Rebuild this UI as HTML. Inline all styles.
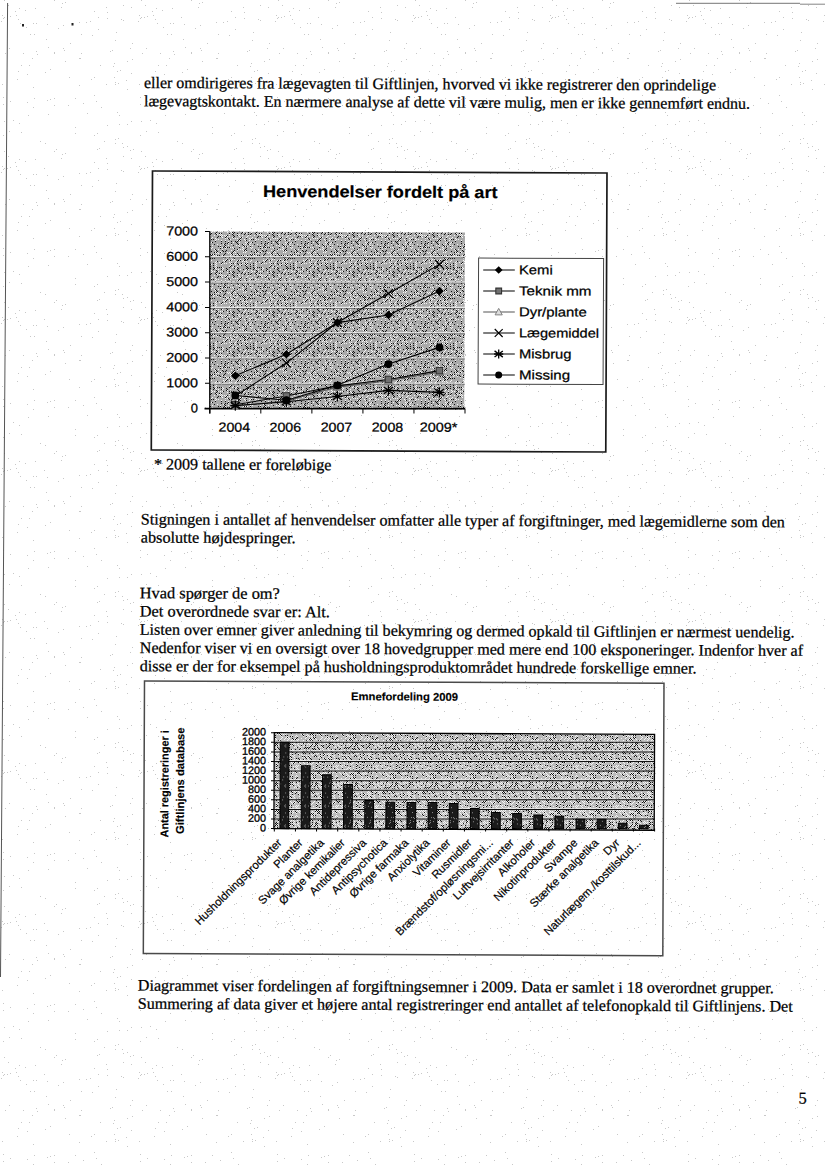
<!DOCTYPE html>
<html><head><meta charset="utf-8"><style>
html,body{margin:0;padding:0;background:#fff;width:825px;height:1168px;overflow:hidden}
svg{display:block}
</style></head><body>
<svg width="825" height="1168" viewBox="0 0 825 1168" shape-rendering="auto">
<defs><pattern id="dith1" width="40" height="40" patternUnits="userSpaceOnUse"><rect width="40" height="40" fill="#aaaaaa"/><path d="M0 0h1v1h-1zM6 0h1v1h-1zM38 0h1v1h-1zM15 1h1v1h-1zM21 1h1v1h-1zM25 1h1v1h-1zM31 1h1v1h-1zM35 1h1v1h-1zM37 1h1v1h-1zM8 2h1v1h-1zM12 2h1v1h-1zM28 2h1v1h-1zM36 2h1v1h-1zM7 3h1v1h-1zM21 3h1v1h-1zM25 3h1v1h-1zM27 3h1v1h-1zM31 3h1v1h-1zM37 3h1v1h-1zM2 4h1v1h-1zM8 4h1v1h-1zM14 4h1v1h-1zM24 4h1v1h-1zM38 4h1v1h-1zM3 5h1v1h-1zM25 5h1v1h-1zM33 5h1v1h-1zM4 6h1v1h-1zM6 6h1v1h-1zM10 6h1v1h-1zM18 6h1v1h-1zM20 6h1v1h-1zM24 6h1v1h-1zM23 7h1v1h-1zM25 7h1v1h-1zM27 7h1v1h-1zM29 7h1v1h-1zM39 7h1v1h-1zM6 8h1v1h-1zM20 8h1v1h-1zM34 8h1v1h-1zM5 9h1v1h-1zM15 9h1v1h-1zM37 9h1v1h-1zM4 10h1v1h-1zM6 10h1v1h-1zM16 10h1v1h-1zM22 10h1v1h-1zM26 10h1v1h-1zM34 10h1v1h-1zM11 11h1v1h-1zM17 11h1v1h-1zM23 11h1v1h-1zM25 11h1v1h-1zM33 11h1v1h-1zM14 12h1v1h-1zM16 12h1v1h-1zM20 12h1v1h-1zM32 12h1v1h-1zM25 13h1v1h-1zM31 13h1v1h-1zM37 13h1v1h-1zM10 14h1v1h-1zM12 14h1v1h-1zM14 14h1v1h-1zM24 14h1v1h-1zM32 14h1v1h-1zM38 14h1v1h-1zM1 15h1v1h-1zM3 15h1v1h-1zM7 15h1v1h-1zM11 15h1v1h-1zM17 15h1v1h-1zM19 15h1v1h-1zM23 15h1v1h-1zM35 15h1v1h-1zM39 15h1v1h-1zM0 16h1v1h-1zM2 16h1v1h-1zM4 16h1v1h-1zM20 16h1v1h-1zM3 17h1v1h-1zM5 17h1v1h-1zM9 17h1v1h-1zM23 17h1v1h-1zM25 17h1v1h-1zM29 17h1v1h-1zM33 17h1v1h-1zM4 18h1v1h-1zM8 18h1v1h-1zM10 18h1v1h-1zM12 18h1v1h-1zM14 18h1v1h-1zM34 18h1v1h-1zM5 19h1v1h-1zM7 19h1v1h-1zM27 19h1v1h-1zM0 20h1v1h-1zM4 20h1v1h-1zM26 20h1v1h-1zM30 20h1v1h-1zM38 20h1v1h-1zM17 21h1v1h-1zM25 21h1v1h-1zM37 21h1v1h-1zM22 22h1v1h-1zM1 23h1v1h-1zM5 23h1v1h-1zM7 23h1v1h-1zM13 23h1v1h-1zM21 23h1v1h-1zM31 23h1v1h-1zM33 23h1v1h-1zM37 23h1v1h-1zM6 24h1v1h-1zM10 24h1v1h-1zM38 24h1v1h-1zM1 25h1v1h-1zM5 25h1v1h-1zM13 25h1v1h-1zM31 25h1v1h-1zM6 26h1v1h-1zM10 26h1v1h-1zM30 26h1v1h-1zM34 26h1v1h-1zM7 27h1v1h-1zM13 27h1v1h-1zM17 27h1v1h-1zM19 27h1v1h-1zM21 27h1v1h-1zM29 27h1v1h-1zM37 27h1v1h-1zM6 28h1v1h-1zM8 28h1v1h-1zM10 28h1v1h-1zM14 28h1v1h-1zM26 28h1v1h-1zM34 28h1v1h-1zM38 28h1v1h-1zM3 29h1v1h-1zM7 29h1v1h-1zM13 29h1v1h-1zM21 29h1v1h-1zM27 29h1v1h-1zM37 29h1v1h-1zM16 30h1v1h-1zM26 30h1v1h-1zM38 30h1v1h-1zM17 31h1v1h-1zM23 31h1v1h-1zM29 31h1v1h-1zM33 31h1v1h-1zM39 31h1v1h-1zM2 32h1v1h-1zM8 32h1v1h-1zM16 32h1v1h-1zM32 32h1v1h-1zM34 32h1v1h-1zM1 33h1v1h-1zM5 33h1v1h-1zM11 33h1v1h-1zM15 33h1v1h-1zM19 33h1v1h-1zM21 33h1v1h-1zM29 33h1v1h-1zM33 33h1v1h-1zM37 33h1v1h-1zM4 34h1v1h-1zM8 34h1v1h-1zM10 34h1v1h-1zM16 34h1v1h-1zM32 34h1v1h-1zM27 35h1v1h-1zM33 35h1v1h-1zM37 35h1v1h-1zM18 36h1v1h-1zM20 36h1v1h-1zM26 36h1v1h-1zM34 36h1v1h-1zM1 37h1v1h-1zM17 37h1v1h-1zM25 37h1v1h-1zM33 37h1v1h-1zM0 38h1v1h-1zM6 38h1v1h-1zM28 38h1v1h-1zM11 39h1v1h-1zM13 39h1v1h-1zM29 39h1v1h-1zM39 39h1v1h-1z" fill="#111"/><path d="M5 0h1v1h-1zM9 0h1v1h-1zM15 0h1v1h-1zM21 0h1v1h-1zM25 0h1v1h-1zM37 0h1v1h-1zM39 0h1v1h-1zM28 1h1v1h-1zM5 2h1v1h-1zM7 2h1v1h-1zM11 2h1v1h-1zM33 2h1v1h-1zM39 2h1v1h-1zM6 3h1v1h-1zM10 3h1v1h-1zM28 3h1v1h-1zM3 4h1v1h-1zM5 4h1v1h-1zM9 4h1v1h-1zM17 4h1v1h-1zM23 4h1v1h-1zM31 4h1v1h-1zM39 4h1v1h-1zM10 5h1v1h-1zM12 5h1v1h-1zM20 5h1v1h-1zM28 5h1v1h-1zM36 5h1v1h-1zM38 5h1v1h-1zM3 6h1v1h-1zM5 6h1v1h-1zM7 6h1v1h-1zM25 6h1v1h-1zM39 6h1v1h-1zM2 7h1v1h-1zM10 7h1v1h-1zM12 7h1v1h-1zM20 7h1v1h-1zM22 7h1v1h-1zM26 7h1v1h-1zM30 7h1v1h-1zM32 7h1v1h-1zM3 8h1v1h-1zM11 8h1v1h-1zM25 8h1v1h-1zM33 8h1v1h-1zM0 9h1v1h-1zM2 9h1v1h-1zM14 9h1v1h-1zM18 9h1v1h-1zM22 9h1v1h-1zM38 9h1v1h-1zM3 10h1v1h-1zM5 10h1v1h-1zM15 10h1v1h-1zM31 10h1v1h-1zM37 10h1v1h-1zM6 11h1v1h-1zM20 11h1v1h-1zM34 11h1v1h-1zM3 12h1v1h-1zM5 12h1v1h-1zM15 12h1v1h-1zM17 12h1v1h-1zM21 12h1v1h-1zM27 12h1v1h-1zM29 12h1v1h-1zM33 12h1v1h-1zM35 12h1v1h-1zM10 13h1v1h-1zM16 13h1v1h-1zM18 13h1v1h-1zM28 13h1v1h-1zM30 13h1v1h-1zM11 14h1v1h-1zM13 14h1v1h-1zM31 14h1v1h-1zM33 14h1v1h-1zM35 14h1v1h-1zM37 14h1v1h-1zM39 14h1v1h-1zM2 15h1v1h-1zM4 15h1v1h-1zM6 15h1v1h-1zM14 15h1v1h-1zM16 15h1v1h-1zM22 15h1v1h-1zM30 15h1v1h-1zM1 16h1v1h-1zM3 16h1v1h-1zM7 16h1v1h-1zM13 16h1v1h-1zM17 16h1v1h-1zM25 16h1v1h-1zM33 16h1v1h-1zM37 16h1v1h-1zM10 17h1v1h-1zM20 17h1v1h-1zM26 17h1v1h-1zM28 17h1v1h-1zM30 17h1v1h-1zM34 17h1v1h-1zM36 17h1v1h-1zM3 18h1v1h-1zM5 18h1v1h-1zM7 18h1v1h-1zM23 18h1v1h-1zM27 18h1v1h-1zM31 18h1v1h-1zM0 19h1v1h-1zM6 19h1v1h-1zM26 19h1v1h-1zM32 19h1v1h-1zM34 19h1v1h-1zM3 20h1v1h-1zM11 20h1v1h-1zM23 20h1v1h-1zM25 20h1v1h-1zM29 20h1v1h-1zM31 20h1v1h-1zM37 20h1v1h-1zM39 20h1v1h-1zM2 21h1v1h-1zM4 21h1v1h-1zM6 21h1v1h-1zM10 21h1v1h-1zM16 21h1v1h-1zM24 21h1v1h-1zM36 21h1v1h-1zM7 22h1v1h-1zM15 22h1v1h-1zM19 22h1v1h-1zM29 22h1v1h-1zM31 22h1v1h-1zM35 22h1v1h-1zM2 23h1v1h-1zM4 23h1v1h-1zM6 23h1v1h-1zM16 23h1v1h-1zM22 23h1v1h-1zM24 23h1v1h-1zM26 23h1v1h-1zM30 23h1v1h-1zM34 23h1v1h-1zM1 24h1v1h-1zM5 24h1v1h-1zM7 24h1v1h-1zM11 24h1v1h-1zM15 24h1v1h-1zM21 24h1v1h-1zM31 24h1v1h-1zM35 24h1v1h-1zM39 24h1v1h-1zM0 25h1v1h-1zM6 25h1v1h-1zM16 25h1v1h-1zM30 25h1v1h-1zM15 26h1v1h-1zM29 26h1v1h-1zM33 26h1v1h-1zM37 26h1v1h-1zM16 27h1v1h-1zM22 27h1v1h-1zM32 27h1v1h-1zM36 27h1v1h-1zM15 28h1v1h-1zM23 28h1v1h-1zM35 28h1v1h-1zM0 29h1v1h-1zM6 29h1v1h-1zM8 29h1v1h-1zM16 29h1v1h-1zM18 29h1v1h-1zM22 29h1v1h-1zM30 29h1v1h-1zM5 30h1v1h-1zM11 30h1v1h-1zM27 30h1v1h-1zM4 31h1v1h-1zM8 31h1v1h-1zM12 31h1v1h-1zM14 31h1v1h-1zM18 31h1v1h-1zM20 31h1v1h-1zM22 31h1v1h-1zM30 31h1v1h-1zM3 32h1v1h-1zM11 32h1v1h-1zM27 32h1v1h-1zM31 32h1v1h-1zM6 33h1v1h-1zM16 33h1v1h-1zM20 33h1v1h-1zM32 33h1v1h-1zM17 34h1v1h-1zM19 34h1v1h-1zM21 34h1v1h-1zM29 34h1v1h-1zM37 34h1v1h-1zM39 34h1v1h-1zM2 35h1v1h-1zM8 35h1v1h-1zM10 35h1v1h-1zM14 35h1v1h-1zM20 35h1v1h-1zM22 35h1v1h-1zM24 35h1v1h-1zM26 35h1v1h-1zM38 35h1v1h-1zM7 36h1v1h-1zM21 36h1v1h-1zM25 36h1v1h-1zM27 36h1v1h-1zM29 36h1v1h-1zM39 36h1v1h-1zM0 37h1v1h-1zM2 37h1v1h-1zM6 37h1v1h-1zM12 37h1v1h-1zM22 37h1v1h-1zM32 37h1v1h-1zM9 38h1v1h-1zM11 38h1v1h-1zM15 38h1v1h-1zM25 38h1v1h-1zM27 38h1v1h-1zM33 38h1v1h-1zM35 38h1v1h-1zM37 38h1v1h-1zM0 39h1v1h-1zM4 39h1v1h-1zM10 39h1v1h-1zM16 39h1v1h-1zM18 39h1v1h-1zM30 39h1v1h-1z" fill="#f5f5f5"/></pattern><pattern id="dith2" width="40" height="40" patternUnits="userSpaceOnUse"><rect width="40" height="40" fill="#bababa"/><path d="M6 0h1v1h-1zM16 0h1v1h-1zM26 0h1v1h-1zM28 0h1v1h-1zM36 0h1v1h-1zM3 1h1v1h-1zM5 1h1v1h-1zM17 1h1v1h-1zM19 1h1v1h-1zM27 1h1v1h-1zM2 2h1v1h-1zM4 2h1v1h-1zM14 2h1v1h-1zM18 2h1v1h-1zM28 2h1v1h-1zM30 2h1v1h-1zM38 2h1v1h-1zM13 3h1v1h-1zM0 4h1v1h-1zM20 4h1v1h-1zM36 4h1v1h-1zM3 5h1v1h-1zM7 5h1v1h-1zM9 5h1v1h-1zM11 5h1v1h-1zM25 5h1v1h-1zM27 5h1v1h-1zM37 5h1v1h-1zM6 6h1v1h-1zM30 6h1v1h-1zM36 6h1v1h-1zM3 7h1v1h-1zM11 7h1v1h-1zM39 7h1v1h-1zM2 8h1v1h-1zM14 8h1v1h-1zM22 8h1v1h-1zM36 8h1v1h-1zM1 9h1v1h-1zM5 9h1v1h-1zM9 9h1v1h-1zM29 9h1v1h-1zM33 9h1v1h-1zM39 9h1v1h-1zM6 10h1v1h-1zM8 10h1v1h-1zM36 10h1v1h-1zM38 10h1v1h-1zM3 11h1v1h-1zM9 11h1v1h-1zM11 11h1v1h-1zM15 11h1v1h-1zM35 11h1v1h-1zM37 11h1v1h-1zM39 11h1v1h-1zM8 12h1v1h-1zM16 12h1v1h-1zM24 12h1v1h-1zM38 12h1v1h-1zM11 13h1v1h-1zM31 13h1v1h-1zM33 13h1v1h-1zM37 13h1v1h-1zM39 13h1v1h-1zM0 14h1v1h-1zM22 14h1v1h-1zM30 14h1v1h-1zM32 14h1v1h-1zM1 15h1v1h-1zM5 15h1v1h-1zM7 15h1v1h-1zM23 15h1v1h-1zM33 15h1v1h-1zM35 15h1v1h-1zM10 16h1v1h-1zM12 16h1v1h-1zM26 16h1v1h-1zM7 17h1v1h-1zM17 17h1v1h-1zM33 17h1v1h-1zM35 17h1v1h-1zM12 18h1v1h-1zM16 18h1v1h-1zM30 18h1v1h-1zM34 18h1v1h-1zM13 19h1v1h-1zM15 19h1v1h-1zM29 19h1v1h-1zM31 19h1v1h-1zM0 20h1v1h-1zM26 20h1v1h-1zM30 20h1v1h-1zM32 20h1v1h-1zM38 20h1v1h-1zM1 21h1v1h-1zM9 21h1v1h-1zM19 21h1v1h-1zM27 21h1v1h-1zM10 22h1v1h-1zM12 22h1v1h-1zM16 22h1v1h-1zM26 22h1v1h-1zM32 22h1v1h-1zM36 22h1v1h-1zM9 23h1v1h-1zM23 23h1v1h-1zM35 23h1v1h-1zM37 23h1v1h-1zM6 24h1v1h-1zM10 24h1v1h-1zM12 24h1v1h-1zM32 24h1v1h-1zM36 24h1v1h-1zM1 25h1v1h-1zM3 25h1v1h-1zM9 25h1v1h-1zM13 25h1v1h-1zM21 25h1v1h-1zM25 25h1v1h-1zM31 25h1v1h-1zM35 25h1v1h-1zM37 25h1v1h-1zM2 26h1v1h-1zM8 26h1v1h-1zM30 26h1v1h-1zM34 26h1v1h-1zM3 27h1v1h-1zM7 27h1v1h-1zM9 27h1v1h-1zM17 27h1v1h-1zM25 27h1v1h-1zM27 27h1v1h-1zM29 27h1v1h-1zM37 27h1v1h-1zM6 28h1v1h-1zM20 28h1v1h-1zM24 28h1v1h-1zM26 28h1v1h-1zM28 28h1v1h-1zM32 28h1v1h-1zM34 28h1v1h-1zM38 28h1v1h-1zM11 29h1v1h-1zM15 29h1v1h-1zM19 29h1v1h-1zM33 29h1v1h-1zM35 29h1v1h-1zM39 29h1v1h-1zM2 30h1v1h-1zM26 30h1v1h-1zM30 30h1v1h-1zM11 31h1v1h-1zM23 31h1v1h-1zM27 31h1v1h-1zM31 31h1v1h-1zM12 32h1v1h-1zM16 32h1v1h-1zM22 32h1v1h-1zM24 32h1v1h-1zM32 32h1v1h-1zM34 32h1v1h-1zM3 33h1v1h-1zM15 33h1v1h-1zM23 33h1v1h-1zM25 33h1v1h-1zM29 33h1v1h-1zM33 33h1v1h-1zM0 34h1v1h-1zM4 34h1v1h-1zM12 34h1v1h-1zM18 34h1v1h-1zM3 35h1v1h-1zM7 35h1v1h-1zM35 35h1v1h-1zM0 36h1v1h-1zM10 36h1v1h-1zM22 36h1v1h-1zM24 36h1v1h-1zM28 36h1v1h-1zM34 36h1v1h-1zM36 36h1v1h-1zM1 37h1v1h-1zM11 37h1v1h-1zM25 37h1v1h-1zM29 37h1v1h-1zM4 38h1v1h-1zM8 38h1v1h-1zM16 38h1v1h-1zM18 38h1v1h-1zM26 38h1v1h-1zM30 38h1v1h-1zM5 39h1v1h-1zM9 39h1v1h-1zM11 39h1v1h-1zM19 39h1v1h-1zM23 39h1v1h-1zM31 39h1v1h-1zM39 39h1v1h-1z" fill="#111"/><path d="M11 0h1v1h-1zM13 0h1v1h-1zM17 0h1v1h-1zM21 0h1v1h-1zM23 0h1v1h-1zM25 0h1v1h-1zM29 0h1v1h-1zM2 1h1v1h-1zM4 1h1v1h-1zM6 1h1v1h-1zM8 1h1v1h-1zM10 1h1v1h-1zM14 1h1v1h-1zM22 1h1v1h-1zM24 1h1v1h-1zM26 1h1v1h-1zM28 1h1v1h-1zM30 1h1v1h-1zM34 1h1v1h-1zM38 1h1v1h-1zM5 2h1v1h-1zM11 2h1v1h-1zM13 2h1v1h-1zM15 2h1v1h-1zM19 2h1v1h-1zM23 2h1v1h-1zM27 2h1v1h-1zM33 2h1v1h-1zM39 2h1v1h-1zM0 3h1v1h-1zM2 3h1v1h-1zM12 3h1v1h-1zM14 3h1v1h-1zM20 3h1v1h-1zM24 3h1v1h-1zM30 3h1v1h-1zM32 3h1v1h-1zM36 3h1v1h-1zM27 4h1v1h-1zM31 4h1v1h-1zM37 4h1v1h-1zM0 5h1v1h-1zM6 5h1v1h-1zM8 5h1v1h-1zM10 5h1v1h-1zM16 5h1v1h-1zM18 5h1v1h-1zM20 5h1v1h-1zM22 5h1v1h-1zM24 5h1v1h-1zM36 5h1v1h-1zM3 6h1v1h-1zM5 6h1v1h-1zM9 6h1v1h-1zM13 6h1v1h-1zM15 6h1v1h-1zM17 6h1v1h-1zM21 6h1v1h-1zM25 6h1v1h-1zM33 6h1v1h-1zM2 7h1v1h-1zM16 7h1v1h-1zM22 7h1v1h-1zM28 7h1v1h-1zM30 7h1v1h-1zM36 7h1v1h-1zM5 8h1v1h-1zM9 8h1v1h-1zM13 8h1v1h-1zM17 8h1v1h-1zM27 8h1v1h-1zM29 8h1v1h-1zM33 8h1v1h-1zM39 8h1v1h-1zM2 9h1v1h-1zM4 9h1v1h-1zM10 9h1v1h-1zM16 9h1v1h-1zM18 9h1v1h-1zM24 9h1v1h-1zM26 9h1v1h-1zM30 9h1v1h-1zM36 9h1v1h-1zM38 9h1v1h-1zM1 10h1v1h-1zM9 10h1v1h-1zM13 10h1v1h-1zM17 10h1v1h-1zM19 10h1v1h-1zM21 10h1v1h-1zM23 10h1v1h-1zM25 10h1v1h-1zM29 10h1v1h-1zM35 10h1v1h-1zM37 10h1v1h-1zM39 10h1v1h-1zM10 11h1v1h-1zM12 11h1v1h-1zM16 11h1v1h-1zM18 11h1v1h-1zM20 11h1v1h-1zM22 11h1v1h-1zM24 11h1v1h-1zM30 11h1v1h-1zM32 11h1v1h-1zM36 11h1v1h-1zM38 11h1v1h-1zM3 12h1v1h-1zM5 12h1v1h-1zM9 12h1v1h-1zM13 12h1v1h-1zM15 12h1v1h-1zM19 12h1v1h-1zM23 12h1v1h-1zM25 12h1v1h-1zM29 12h1v1h-1zM31 12h1v1h-1zM33 12h1v1h-1zM35 12h1v1h-1zM37 12h1v1h-1zM0 13h1v1h-1zM2 13h1v1h-1zM4 13h1v1h-1zM6 13h1v1h-1zM12 13h1v1h-1zM16 13h1v1h-1zM20 13h1v1h-1zM24 13h1v1h-1zM26 13h1v1h-1zM30 13h1v1h-1zM32 13h1v1h-1zM34 13h1v1h-1zM36 13h1v1h-1zM1 14h1v1h-1zM3 14h1v1h-1zM5 14h1v1h-1zM21 14h1v1h-1zM23 14h1v1h-1zM27 14h1v1h-1zM31 14h1v1h-1zM33 14h1v1h-1zM37 14h1v1h-1zM39 14h1v1h-1zM0 15h1v1h-1zM12 15h1v1h-1zM16 15h1v1h-1zM26 15h1v1h-1zM28 15h1v1h-1zM32 15h1v1h-1zM34 15h1v1h-1zM1 16h1v1h-1zM7 16h1v1h-1zM11 16h1v1h-1zM15 16h1v1h-1zM17 16h1v1h-1zM23 16h1v1h-1zM27 16h1v1h-1zM29 16h1v1h-1zM31 16h1v1h-1zM2 17h1v1h-1zM6 17h1v1h-1zM8 17h1v1h-1zM26 17h1v1h-1zM32 17h1v1h-1zM34 17h1v1h-1zM1 18h1v1h-1zM5 18h1v1h-1zM7 18h1v1h-1zM9 18h1v1h-1zM15 18h1v1h-1zM21 18h1v1h-1zM25 18h1v1h-1zM29 18h1v1h-1zM31 18h1v1h-1zM35 18h1v1h-1zM0 19h1v1h-1zM4 19h1v1h-1zM8 19h1v1h-1zM12 19h1v1h-1zM14 19h1v1h-1zM16 19h1v1h-1zM18 19h1v1h-1zM28 19h1v1h-1zM30 19h1v1h-1zM32 19h1v1h-1zM36 19h1v1h-1zM7 20h1v1h-1zM11 20h1v1h-1zM13 20h1v1h-1zM17 20h1v1h-1zM23 20h1v1h-1zM27 20h1v1h-1zM31 20h1v1h-1zM39 20h1v1h-1zM4 21h1v1h-1zM10 21h1v1h-1zM14 21h1v1h-1zM20 21h1v1h-1zM22 21h1v1h-1zM28 21h1v1h-1zM30 21h1v1h-1zM34 21h1v1h-1zM38 21h1v1h-1zM3 22h1v1h-1zM5 22h1v1h-1zM7 22h1v1h-1zM9 22h1v1h-1zM13 22h1v1h-1zM17 22h1v1h-1zM21 22h1v1h-1zM25 22h1v1h-1zM27 22h1v1h-1zM37 22h1v1h-1zM39 22h1v1h-1zM0 23h1v1h-1zM4 23h1v1h-1zM6 23h1v1h-1zM12 23h1v1h-1zM14 23h1v1h-1zM18 23h1v1h-1zM20 23h1v1h-1zM22 23h1v1h-1zM24 23h1v1h-1zM28 23h1v1h-1zM34 23h1v1h-1zM1 24h1v1h-1zM3 24h1v1h-1zM7 24h1v1h-1zM13 24h1v1h-1zM15 24h1v1h-1zM17 24h1v1h-1zM21 24h1v1h-1zM27 24h1v1h-1zM29 24h1v1h-1zM31 24h1v1h-1zM33 24h1v1h-1zM37 24h1v1h-1zM10 25h1v1h-1zM12 25h1v1h-1zM18 25h1v1h-1zM24 25h1v1h-1zM30 25h1v1h-1zM32 25h1v1h-1zM34 25h1v1h-1zM36 25h1v1h-1zM38 25h1v1h-1zM1 26h1v1h-1zM9 26h1v1h-1zM15 26h1v1h-1zM19 26h1v1h-1zM21 26h1v1h-1zM23 26h1v1h-1zM27 26h1v1h-1zM29 26h1v1h-1zM39 26h1v1h-1zM0 27h1v1h-1zM2 27h1v1h-1zM8 27h1v1h-1zM14 27h1v1h-1zM16 27h1v1h-1zM20 27h1v1h-1zM32 27h1v1h-1zM36 27h1v1h-1zM3 28h1v1h-1zM7 28h1v1h-1zM21 28h1v1h-1zM27 28h1v1h-1zM37 28h1v1h-1zM0 29h1v1h-1zM2 29h1v1h-1zM8 29h1v1h-1zM12 29h1v1h-1zM24 29h1v1h-1zM3 30h1v1h-1zM9 30h1v1h-1zM11 30h1v1h-1zM13 30h1v1h-1zM19 30h1v1h-1zM21 30h1v1h-1zM27 30h1v1h-1zM29 30h1v1h-1zM31 30h1v1h-1zM33 30h1v1h-1zM35 30h1v1h-1zM39 30h1v1h-1zM8 31h1v1h-1zM12 31h1v1h-1zM14 31h1v1h-1zM16 31h1v1h-1zM18 31h1v1h-1zM20 31h1v1h-1zM22 31h1v1h-1zM28 31h1v1h-1zM30 31h1v1h-1zM1 32h1v1h-1zM7 32h1v1h-1zM9 32h1v1h-1zM15 32h1v1h-1zM19 32h1v1h-1zM21 32h1v1h-1zM23 32h1v1h-1zM25 32h1v1h-1zM29 32h1v1h-1zM31 32h1v1h-1zM33 32h1v1h-1zM4 33h1v1h-1zM8 33h1v1h-1zM10 33h1v1h-1zM12 33h1v1h-1zM18 33h1v1h-1zM34 33h1v1h-1zM36 33h1v1h-1zM38 33h1v1h-1zM1 34h1v1h-1zM3 34h1v1h-1zM5 34h1v1h-1zM7 34h1v1h-1zM9 34h1v1h-1zM19 34h1v1h-1zM21 34h1v1h-1zM31 34h1v1h-1zM33 34h1v1h-1zM37 34h1v1h-1zM0 35h1v1h-1zM4 35h1v1h-1zM8 35h1v1h-1zM10 35h1v1h-1zM12 35h1v1h-1zM14 35h1v1h-1zM22 35h1v1h-1zM24 35h1v1h-1zM26 35h1v1h-1zM28 35h1v1h-1zM32 35h1v1h-1zM1 36h1v1h-1zM3 36h1v1h-1zM9 36h1v1h-1zM13 36h1v1h-1zM19 36h1v1h-1zM29 36h1v1h-1zM35 36h1v1h-1zM39 36h1v1h-1zM0 37h1v1h-1zM8 37h1v1h-1zM10 37h1v1h-1zM14 37h1v1h-1zM22 37h1v1h-1zM24 37h1v1h-1zM26 37h1v1h-1zM28 37h1v1h-1zM30 37h1v1h-1zM38 37h1v1h-1zM3 38h1v1h-1zM5 38h1v1h-1zM7 38h1v1h-1zM9 38h1v1h-1zM11 38h1v1h-1zM27 38h1v1h-1zM0 39h1v1h-1zM8 39h1v1h-1zM14 39h1v1h-1zM16 39h1v1h-1zM20 39h1v1h-1zM24 39h1v1h-1zM28 39h1v1h-1z" fill="#f5f5f5"/></pattern><pattern id="dith3" width="20" height="20" patternUnits="userSpaceOnUse"><rect width="20" height="20" fill="#1a1a1a"/><path d="" fill="#111"/><path d="M3 0h1v1h-1zM11 0h1v1h-1zM14 1h1v1h-1zM11 2h1v1h-1zM10 3h1v1h-1zM18 3h1v1h-1zM1 4h1v1h-1zM6 5h1v1h-1zM5 6h1v1h-1zM9 6h1v1h-1zM6 7h1v1h-1zM12 7h1v1h-1zM19 8h1v1h-1zM0 9h1v1h-1zM13 12h1v1h-1zM6 13h1v1h-1zM4 17h1v1h-1zM8 17h1v1h-1zM12 17h1v1h-1zM14 17h1v1h-1zM15 18h1v1h-1zM17 18h1v1h-1zM18 19h1v1h-1z" fill="#8a8a8a"/></pattern><pattern id="speck" width="137" height="151" patternUnits="userSpaceOnUse"><path d="M115 143h1v1h-1zM119 115h1v1h-1zM130 150h1v1h-1zM48 47h1v1h-1zM131 121h1v1h-1zM47 24h1v1h-1zM114 77h1v1h-1zM36 23h1v1h-1zM10 101h1v1h-1zM115 40h1v1h-1zM3 135h1v1h-1zM16 15h1v1h-1zM9 48h1v1h-1zM61 7h1v1h-1zM118 83h1v1h-1zM112 50h1v1h-1zM132 59h1v1h-1zM75 127h1v1h-1zM1 21h1v1h-1zM117 71h1v1h-1zM104 141h1v1h-1zM21 65h1v1h-1zM80 58h1v1h-1zM131 73h1v1h-1zM7 17h1v1h-1zM27 102h1v1h-1zM27 74h1v1h-1zM98 17h1v1h-1zM4 0h1v1h-1zM54 53h1v1h-1zM13 120h1v1h-1zM96 101h1v1h-1zM107 18h1v1h-1zM50 69h1v1h-1zM86 22h1v1h-1zM79 85h1v1h-1zM3 104h1v1h-1zM30 34h1v1h-1zM63 25h1v1h-1zM2 15h1v1h-1zM119 124h1v1h-1zM45 143h1v1h-1zM48 114h1v1h-1zM130 48h1v1h-1zM33 107h1v1h-1zM98 29h1v1h-1zM101 107h1v1h-1zM54 0h1v1h-1zM69 77h1v1h-1zM5 53h1v1h-1zM47 100h1v1h-1zM25 10h1v1h-1zM37 54h1v1h-1zM113 66h1v1h-1zM2 84h1v1h-1zM75 98h1v1h-1zM18 19h1v1h-1zM23 53h1v1h-1zM62 3h1v1h-1zM94 95h1v1h-1zM116 32h1v1h-1zM123 147h1v1h-1zM34 98h1v1h-1zM46 39h1v1h-1zM79 58h1v1h-1zM63 48h1v1h-1zM40 141h1v1h-1zM50 99h1v1h-1zM123 20h1v1h-1zM107 12h1v1h-1zM26 27h1v1h-1zM9 131h1v1h-1zM65 61h1v1h-1zM100 65h1v1h-1zM107 125h1v1h-1zM75 133h1v1h-1zM44 17h1v1h-1zM32 58h1v1h-1zM122 143h1v1h-1zM18 71h1v1h-1zM54 52h1v1h-1zM4 17h1v1h-1zM68 105h1v1h-1zM114 63h1v1h-1zM15 11h1v1h-1zM45 72h1v1h-1zM94 135h1v1h-1zM33 23h1v1h-1zM92 35h1v1h-1zM115 84h1v1h-1zM133 149h1v1h-1zM35 8h1v1h-1zM4 121h1v1h-1zM91 79h1v1h-1zM8 5h1v1h-1zM19 123h1v1h-1zM17 79h1v1h-1zM81 34h1v1h-1zM18 19h1v1h-1zM115 139h1v1h-1zM94 11h1v1h-1zM33 87h1v1h-1zM90 21h1v1h-1zM121 19h1v1h-1zM106 7h1v1h-1zM127 146h1v1h-1zM3 97h1v1h-1zM97 149h1v1h-1zM3 18h1v1h-1zM20 23h1v1h-1zM29 65h1v1h-1zM106 84h1v1h-1zM99 148h1v1h-1zM117 112h1v1h-1zM118 138h1v1h-1zM21 132h1v1h-1zM131 7h1v1h-1zM79 22h1v1h-1zM123 5h1v1h-1zM58 28h1v1h-1zM127 124h1v1h-1zM65 2h1v1h-1zM94 77h1v1h-1zM36 51h1v1h-1zM132 43h1v1h-1zM87 113h1v1h-1zM127 61h1v1h-1zM83 103h1v1h-1zM64 50h1v1h-1zM110 51h1v1h-1zM54 98h1v1h-1zM56 149h1v1h-1zM81 53h1v1h-1zM34 34h1v1h-1zM127 89h1v1h-1zM10 16h1v1h-1zM70 43h1v1h-1zM28 115h1v1h-1zM120 70h1v1h-1zM54 105h1v1h-1zM97 133h1v1h-1zM126 80h1v1h-1zM115 82h1v1h-1zM19 8h1v1h-1z" fill="#c8c8c8"/></pattern></defs>
<rect x="0" y="0" width="825" height="1168" fill="url(#speck)"/>
<g transform="rotate(0.25 412.0 584.0)">
<text x="141.84" y="89.07" font-family='"Liberation Serif", serif' font-size="16" font-weight="normal" text-anchor="start" fill="#000" stroke="#000" stroke-width="0.25" textLength="572.14" lengthAdjust="spacingAndGlyphs">eller omdirigeres fra lægevagten til Giftlinjen, hvorved vi ikke registrerer den oprindelige</text>
<text x="141.92" y="107.37" font-family='"Liberation Serif", serif' font-size="16" font-weight="normal" text-anchor="start" fill="#000" stroke="#000" stroke-width="0.25" textLength="605.94" lengthAdjust="spacingAndGlyphs">lægevagtskontakt. En nærmere analyse af dette vil være mulig, men er ikke gennemført endnu.</text>
<text x="153.50" y="470.53" font-family='"Liberation Serif", serif' font-size="16" font-weight="normal" text-anchor="start" fill="#000" stroke="#000" stroke-width="0.25" textLength="177.32" lengthAdjust="spacingAndGlyphs">* 2009 tallene er foreløbige</text>
<text x="140.54" y="525.58" font-family='"Liberation Serif", serif' font-size="16" font-weight="normal" text-anchor="start" fill="#000" stroke="#000" stroke-width="0.25" textLength="644.12" lengthAdjust="spacingAndGlyphs">Stigningen i antallet af henvendelser omfatter alle typer af forgiftninger, med lægemidlerne som den</text>
<text x="140.62" y="543.78" font-family='"Liberation Serif", serif' font-size="16" font-weight="normal" text-anchor="start" fill="#000" stroke="#000" stroke-width="0.25" textLength="154.86" lengthAdjust="spacingAndGlyphs">absolutte højdespringer.</text>
<text x="139.86" y="599.39" font-family='"Liberation Serif", serif' font-size="16" font-weight="normal" text-anchor="start" fill="#000" stroke="#000" stroke-width="0.25" textLength="140.00" lengthAdjust="spacingAndGlyphs">Hvad spørger de om?</text>
<text x="139.94" y="617.64" font-family='"Liberation Serif", serif' font-size="16" font-weight="normal" text-anchor="start" fill="#000" stroke="#000" stroke-width="0.25" textLength="190.04" lengthAdjust="spacingAndGlyphs">Det overordnede svar er: Alt.</text>
<text x="140.02" y="635.89" font-family='"Liberation Serif", serif' font-size="16" font-weight="normal" text-anchor="start" fill="#000" stroke="#000" stroke-width="0.25" textLength="654.84" lengthAdjust="spacingAndGlyphs">Listen over emner giver anledning til bekymring og dermed opkald til Giftlinjen er nærmest uendelig.</text>
<text x="140.10" y="654.14" font-family='"Liberation Serif", serif' font-size="16" font-weight="normal" text-anchor="start" fill="#000" stroke="#000" stroke-width="0.25" textLength="663.22" lengthAdjust="spacingAndGlyphs">Nedenfor viser vi en oversigt over 18 hovedgrupper med mere end 100 eksponeringer. Indenfor hver af</text>
<text x="140.18" y="672.39" font-family='"Liberation Serif", serif' font-size="16" font-weight="normal" text-anchor="start" fill="#000" stroke="#000" stroke-width="0.25" textLength="556.62" lengthAdjust="spacingAndGlyphs">disse er der for eksempel på husholdningsproduktområdet hundrede forskellige emner.</text>
<text x="139.58" y="991.79" font-family='"Liberation Serif", serif' font-size="16" font-weight="normal" text-anchor="start" fill="#000" stroke="#000" stroke-width="0.25" textLength="635.95" lengthAdjust="spacingAndGlyphs">Diagrammet viser fordelingen af forgiftningsemner i 2009. Data er samlet i 18 overordnet grupper.</text>
<text x="139.66" y="1009.99" font-family='"Liberation Serif", serif' font-size="16" font-weight="normal" text-anchor="start" fill="#000" stroke="#000" stroke-width="0.25" textLength="654.88" lengthAdjust="spacingAndGlyphs">Summering af data giver et højere antal registreringer end antallet af telefonopkald til Giftlinjens. Det</text>
<text x="800.76" y="1101.91" font-family='"Liberation Serif", serif' font-size="16.5" font-weight="normal" text-anchor="start" fill="#000" stroke="#000" stroke-width="0.25">5</text>
<rect x="150.70" y="172.14" width="454.50" height="279.00" fill="none" stroke="#1a1a1a" stroke-width="1.7" />
<text x="261.31" y="197.65" font-family='"Liberation Sans", sans-serif' font-size="16.6" font-weight="bold" text-anchor="start" fill="#000" stroke="#000" stroke-width="0.2" textLength="234.50" lengthAdjust="spacingAndGlyphs">Henvendelser fordelt på art</text>
</g>
<polygon points="209.80,231.50 465.00,232.61 464.22,409.71 209.03,408.60" fill="url(#dith1)"/>
<g transform="rotate(0.25 412.0 584.0)">
<line x1="208.93" y1="384.18" x2="464.12" y2="383.07" stroke="#f2f2f2" stroke-width="1.1" />
<line x1="208.93" y1="385.18" x2="464.13" y2="384.07" stroke="#505050" stroke-width="0.6" />
<line x1="208.82" y1="358.88" x2="464.01" y2="357.77" stroke="#f2f2f2" stroke-width="1.1" />
<line x1="208.82" y1="359.88" x2="464.02" y2="358.77" stroke="#505050" stroke-width="0.6" />
<line x1="208.71" y1="333.58" x2="463.90" y2="332.47" stroke="#f2f2f2" stroke-width="1.1" />
<line x1="208.71" y1="334.58" x2="463.91" y2="333.47" stroke="#505050" stroke-width="0.6" />
<line x1="208.60" y1="308.28" x2="463.79" y2="307.17" stroke="#f2f2f2" stroke-width="1.1" />
<line x1="208.60" y1="309.28" x2="463.80" y2="308.17" stroke="#505050" stroke-width="0.6" />
<line x1="208.48" y1="282.99" x2="463.68" y2="281.87" stroke="#f2f2f2" stroke-width="1.1" />
<line x1="208.49" y1="283.99" x2="463.69" y2="282.87" stroke="#505050" stroke-width="0.6" />
<line x1="208.37" y1="257.69" x2="463.57" y2="256.57" stroke="#f2f2f2" stroke-width="1.1" />
<line x1="208.38" y1="258.69" x2="463.58" y2="257.57" stroke="#505050" stroke-width="0.6" />
<line x1="208.26" y1="232.39" x2="209.06" y2="414.48" stroke="#000" stroke-width="1.3" />
<line x1="203.74" y1="409.51" x2="464.23" y2="408.37" stroke="#000" stroke-width="1.6" />
<line x1="204.24" y1="409.50" x2="209.04" y2="409.48" stroke="#000" stroke-width="1" />
<text x="197.25" y="413.54" font-family='"Liberation Sans", sans-serif' font-size="12.9" font-weight="normal" text-anchor="end" fill="#000" stroke="#000" stroke-width="0.25">0</text>
<line x1="204.13" y1="384.21" x2="208.93" y2="384.18" stroke="#000" stroke-width="1" />
<text x="197.14" y="388.24" font-family='"Liberation Sans", sans-serif' font-size="12.9" font-weight="normal" text-anchor="end" fill="#000" stroke="#000" stroke-width="0.25" textLength="31.80" lengthAdjust="spacingAndGlyphs">1000</text>
<line x1="204.02" y1="358.91" x2="208.82" y2="358.88" stroke="#000" stroke-width="1" />
<text x="197.03" y="362.94" font-family='"Liberation Sans", sans-serif' font-size="12.9" font-weight="normal" text-anchor="end" fill="#000" stroke="#000" stroke-width="0.25" textLength="31.80" lengthAdjust="spacingAndGlyphs">2000</text>
<line x1="203.91" y1="333.61" x2="208.71" y2="333.58" stroke="#000" stroke-width="1" />
<text x="196.92" y="337.64" font-family='"Liberation Sans", sans-serif' font-size="12.9" font-weight="normal" text-anchor="end" fill="#000" stroke="#000" stroke-width="0.25" textLength="31.80" lengthAdjust="spacingAndGlyphs">3000</text>
<line x1="203.80" y1="308.31" x2="208.60" y2="308.28" stroke="#000" stroke-width="1" />
<text x="196.81" y="312.34" font-family='"Liberation Sans", sans-serif' font-size="12.9" font-weight="normal" text-anchor="end" fill="#000" stroke="#000" stroke-width="0.25" textLength="31.80" lengthAdjust="spacingAndGlyphs">4000</text>
<line x1="203.68" y1="283.01" x2="208.48" y2="282.99" stroke="#000" stroke-width="1" />
<text x="196.70" y="287.04" font-family='"Liberation Sans", sans-serif' font-size="12.9" font-weight="normal" text-anchor="end" fill="#000" stroke="#000" stroke-width="0.25" textLength="31.80" lengthAdjust="spacingAndGlyphs">5000</text>
<line x1="203.57" y1="257.71" x2="208.37" y2="257.69" stroke="#000" stroke-width="1" />
<text x="196.59" y="261.74" font-family='"Liberation Sans", sans-serif' font-size="12.9" font-weight="normal" text-anchor="end" fill="#000" stroke="#000" stroke-width="0.25" textLength="31.80" lengthAdjust="spacingAndGlyphs">6000</text>
<line x1="203.46" y1="232.41" x2="208.26" y2="232.39" stroke="#000" stroke-width="1" />
<text x="196.48" y="236.44" font-family='"Liberation Sans", sans-serif' font-size="12.9" font-weight="normal" text-anchor="end" fill="#000" stroke="#000" stroke-width="0.25" textLength="31.80" lengthAdjust="spacingAndGlyphs">7000</text>
<line x1="209.04" y1="409.48" x2="209.06" y2="414.48" stroke="#000" stroke-width="1" />
<line x1="260.08" y1="409.26" x2="260.10" y2="414.26" stroke="#000" stroke-width="1" />
<line x1="311.12" y1="409.04" x2="311.14" y2="414.04" stroke="#000" stroke-width="1" />
<line x1="362.16" y1="408.82" x2="362.18" y2="413.82" stroke="#000" stroke-width="1" />
<line x1="413.19" y1="408.59" x2="413.22" y2="413.59" stroke="#000" stroke-width="1" />
<line x1="464.23" y1="408.37" x2="464.26" y2="413.37" stroke="#000" stroke-width="1" />
<text x="233.66" y="432.48" font-family='"Liberation Sans", sans-serif' font-size="13.0" font-weight="normal" text-anchor="middle" fill="#000" stroke="#000" stroke-width="0.25" textLength="31.50" lengthAdjust="spacingAndGlyphs">2004</text>
<text x="284.70" y="432.25" font-family='"Liberation Sans", sans-serif' font-size="13.0" font-weight="normal" text-anchor="middle" fill="#000" stroke="#000" stroke-width="0.25" textLength="31.50" lengthAdjust="spacingAndGlyphs">2006</text>
<text x="335.74" y="432.03" font-family='"Liberation Sans", sans-serif' font-size="13.0" font-weight="normal" text-anchor="middle" fill="#000" stroke="#000" stroke-width="0.25" textLength="31.50" lengthAdjust="spacingAndGlyphs">2007</text>
<text x="386.78" y="431.81" font-family='"Liberation Sans", sans-serif' font-size="13.0" font-weight="normal" text-anchor="middle" fill="#000" stroke="#000" stroke-width="0.25" textLength="31.50" lengthAdjust="spacingAndGlyphs">2008</text>
<text x="437.82" y="431.59" font-family='"Liberation Sans", sans-serif' font-size="13.0" font-weight="normal" text-anchor="middle" fill="#000" stroke="#000" stroke-width="0.25" textLength="37.50" lengthAdjust="spacingAndGlyphs">2009*</text>
<polyline points="234.55,406.84 285.56,401.56 336.54,387.42 387.55,380.87 438.55,371.80" fill="none" stroke="#555" stroke-width="1.1"/>
<polyline points="234.54,405.58 285.54,396.50 336.54,386.16 387.55,379.61 438.55,370.53" fill="none" stroke="#000" stroke-width="1.1"/>
<polyline points="234.54,406.34 285.57,402.32 336.58,396.78 387.60,390.49 438.64,392.29" fill="none" stroke="#000" stroke-width="1.1"/>
<polyline points="234.50,396.22 285.56,400.80 336.53,385.65 387.48,364.18 438.45,347.26" fill="none" stroke="#000" stroke-width="1.1"/>
<polyline points="234.50,396.72 285.40,363.61 336.26,322.91 387.17,293.59 438.09,264.27" fill="none" stroke="#000" stroke-width="1.1"/>
<polyline points="234.41,376.48 285.36,354.76 336.26,322.91 387.27,315.10 438.20,290.84" fill="none" stroke="#000" stroke-width="1.1"/>
<path d="M234.55,402.84 L238.55,410.04 L230.55,410.04 Z" fill="#ddd" stroke="#777" stroke-width="0.9"/>
<path d="M285.56,397.56 L289.56,404.76 L281.56,404.76 Z" fill="#ddd" stroke="#777" stroke-width="0.9"/>
<path d="M336.54,383.42 L340.54,390.62 L332.54,390.62 Z" fill="#ddd" stroke="#777" stroke-width="0.9"/>
<path d="M387.55,376.87 L391.55,384.07 L383.55,384.07 Z" fill="#ddd" stroke="#777" stroke-width="0.9"/>
<path d="M438.55,367.80 L442.55,375.00 L434.55,375.00 Z" fill="#ddd" stroke="#777" stroke-width="0.9"/>
<rect x="231.34" y="402.38" width="6.40" height="6.40" fill="#707070" stroke="#333" stroke-width="1.1"/>
<rect x="282.34" y="393.30" width="6.40" height="6.40" fill="#707070" stroke="#333" stroke-width="1.1"/>
<rect x="333.34" y="382.96" width="6.40" height="6.40" fill="#707070" stroke="#333" stroke-width="1.1"/>
<rect x="384.35" y="376.41" width="6.40" height="6.40" fill="#707070" stroke="#333" stroke-width="1.1"/>
<rect x="435.35" y="367.33" width="6.40" height="6.40" fill="#707070" stroke="#333" stroke-width="1.1"/>
<path d="M229.94,402.89 L239.14,409.79 M239.14,402.89 L229.94,409.79 M229.48,406.34 L239.60,406.34 M234.54,401.28 L234.54,411.40" stroke="#000" stroke-width="1.3"/>
<path d="M280.97,398.87 L290.17,405.77 M290.17,398.87 L280.97,405.77 M280.51,402.32 L290.63,402.32 M285.57,397.26 L285.57,407.38" stroke="#000" stroke-width="1.3"/>
<path d="M331.98,393.33 L341.18,400.23 M341.18,393.33 L331.98,400.23 M331.52,396.78 L341.64,396.78 M336.58,391.72 L336.58,401.84" stroke="#000" stroke-width="1.3"/>
<path d="M383.00,387.04 L392.20,393.94 M392.20,387.04 L383.00,393.94 M382.54,390.49 L392.66,390.49 M387.60,385.43 L387.60,395.55" stroke="#000" stroke-width="1.3"/>
<path d="M434.04,388.84 L443.24,395.74 M443.24,388.84 L434.04,395.74 M433.58,392.29 L443.70,392.29 M438.64,387.23 L438.64,397.35" stroke="#000" stroke-width="1.3"/>
<circle cx="234.50" cy="396.22" r="3.90" fill="#000"/>
<circle cx="285.56" cy="400.80" r="3.90" fill="#000"/>
<circle cx="336.53" cy="385.65" r="3.90" fill="#000"/>
<circle cx="387.48" cy="364.18" r="3.90" fill="#000"/>
<circle cx="438.45" cy="347.26" r="3.90" fill="#000"/>
<path d="M230.10,392.32 L238.90,401.12 M238.90,392.32 L230.10,401.12" stroke="#000" stroke-width="1.2"/>
<path d="M281.00,359.21 L289.80,368.01 M289.80,359.21 L281.00,368.01" stroke="#000" stroke-width="1.2"/>
<path d="M331.86,318.51 L340.66,327.31 M340.66,318.51 L331.86,327.31" stroke="#000" stroke-width="1.2"/>
<path d="M382.77,289.19 L391.57,297.99 M391.57,289.19 L382.77,297.99" stroke="#000" stroke-width="1.2"/>
<path d="M433.69,259.87 L442.49,268.67 M442.49,259.87 L433.69,268.67" stroke="#000" stroke-width="1.2"/>
<path d="M234.41,372.18 L238.71,376.48 L234.41,380.78 L230.11,376.48 Z" fill="#000"/>
<path d="M285.36,350.46 L289.66,354.76 L285.36,359.06 L281.06,354.76 Z" fill="#000"/>
<path d="M336.26,318.61 L340.56,322.91 L336.26,327.21 L331.96,322.91 Z" fill="#000"/>
<path d="M387.27,310.80 L391.57,315.10 L387.27,319.40 L382.97,315.10 Z" fill="#000"/>
<path d="M438.20,286.54 L442.50,290.84 L438.20,295.14 L433.90,290.84 Z" fill="#000"/>
<rect x="477.18" y="257.71" width="125.00" height="126.00" fill="#fff" stroke="#444" stroke-width="1.0" />
<line x1="481.83" y1="269.69" x2="513.43" y2="269.55" stroke="#000" stroke-width="1.2" />
<path d="M497.33,265.75 L501.20,269.62 L497.33,273.49 L493.46,269.62 Z" fill="#000"/>
<text x="517.65" y="273.84" font-family='"Liberation Sans", sans-serif' font-size="12.9" font-weight="normal" text-anchor="start" fill="#000" stroke="#000" stroke-width="0.25" textLength="33.70" lengthAdjust="spacingAndGlyphs">Kemi</text>
<line x1="481.92" y1="290.69" x2="513.52" y2="290.55" stroke="#000" stroke-width="1.2" />
<rect x="494.54" y="287.74" width="5.76" height="5.76" fill="#707070" stroke="#333" stroke-width="1.1"/>
<text x="517.74" y="294.84" font-family='"Liberation Sans", sans-serif' font-size="12.9" font-weight="normal" text-anchor="start" fill="#000" stroke="#000" stroke-width="0.25" textLength="72.50" lengthAdjust="spacingAndGlyphs">Teknik mm</text>
<line x1="482.01" y1="311.69" x2="513.61" y2="311.55" stroke="#555" stroke-width="1.2" />
<path d="M497.51,308.02 L501.11,314.50 L493.91,314.50 Z" fill="#ddd" stroke="#777" stroke-width="0.9"/>
<text x="517.83" y="315.84" font-family='"Liberation Sans", sans-serif' font-size="12.9" font-weight="normal" text-anchor="start" fill="#000" stroke="#000" stroke-width="0.25" textLength="67.70" lengthAdjust="spacingAndGlyphs">Dyr/plante</text>
<line x1="482.10" y1="332.69" x2="513.70" y2="332.55" stroke="#000" stroke-width="1.2" />
<path d="M493.64,328.66 L501.56,336.58 M501.56,328.66 L493.64,336.58" stroke="#000" stroke-width="1.2"/>
<text x="517.92" y="336.84" font-family='"Liberation Sans", sans-serif' font-size="12.9" font-weight="normal" text-anchor="start" fill="#000" stroke="#000" stroke-width="0.25" textLength="80.00" lengthAdjust="spacingAndGlyphs">Lægemiddel</text>
<line x1="482.20" y1="353.69" x2="513.80" y2="353.55" stroke="#000" stroke-width="1.2" />
<path d="M493.56,350.52 L501.84,356.73 M501.84,350.52 L493.56,356.73 M493.14,353.62 L502.25,353.62 M497.70,349.07 L497.70,358.18" stroke="#000" stroke-width="1.3"/>
<text x="518.01" y="357.84" font-family='"Liberation Sans", sans-serif' font-size="12.9" font-weight="normal" text-anchor="start" fill="#000" stroke="#000" stroke-width="0.25" textLength="52.50" lengthAdjust="spacingAndGlyphs">Misbrug</text>
<line x1="482.29" y1="374.69" x2="513.89" y2="374.55" stroke="#000" stroke-width="1.2" />
<circle cx="497.79" cy="374.62" r="3.51" fill="#000"/>
<text x="518.11" y="378.84" font-family='"Liberation Sans", sans-serif' font-size="12.9" font-weight="normal" text-anchor="start" fill="#000" stroke="#000" stroke-width="0.25" textLength="51.00" lengthAdjust="spacingAndGlyphs">Missing</text>
<rect x="144.93" y="682.17" width="519.50" height="272.50" fill="none" stroke="#4a4a4a" stroke-width="1.5" />
<text x="351.51" y="700.57" font-family='"Liberation Sans", sans-serif' font-size="11.2" font-weight="bold" text-anchor="start" fill="#000" stroke="#000" stroke-width="0.15" textLength="107.00" lengthAdjust="spacingAndGlyphs">Emnefordeling 2009</text>
<text x="0" y="0" transform="translate(169.31,838.56) rotate(-90)" font-family='"Liberation Sans", sans-serif' font-size="11.2" font-weight="bold" stroke="#000" stroke-width="0.15" textLength="107.3" lengthAdjust="spacingAndGlyphs">Antal registreringer i</text>
<text x="0" y="0" transform="translate(184.89,834.99) rotate(-90)" font-family='"Liberation Sans", sans-serif' font-size="11.2" font-weight="bold" stroke="#000" stroke-width="0.15" textLength="106.6" lengthAdjust="spacingAndGlyphs">Giftlinjens database</text>
</g>
<polygon points="274.30,732.70 654.60,734.36 654.18,830.26 273.88,828.60" fill="url(#dith2)"/>
<g transform="rotate(0.25 412.0 584.0)">
<line x1="275.32" y1="818.61" x2="655.62" y2="816.95" stroke="#eeeeee" stroke-width="0.9" />
<line x1="275.33" y1="819.61" x2="655.62" y2="817.95" stroke="#111" stroke-width="1" />
<line x1="275.28" y1="809.02" x2="655.58" y2="807.36" stroke="#eeeeee" stroke-width="0.9" />
<line x1="275.28" y1="810.02" x2="655.58" y2="808.36" stroke="#111" stroke-width="1" />
<line x1="275.24" y1="799.43" x2="655.54" y2="797.77" stroke="#eeeeee" stroke-width="0.9" />
<line x1="275.24" y1="800.43" x2="655.54" y2="798.77" stroke="#111" stroke-width="1" />
<line x1="275.20" y1="789.84" x2="655.49" y2="788.18" stroke="#eeeeee" stroke-width="0.9" />
<line x1="275.20" y1="790.84" x2="655.50" y2="789.18" stroke="#111" stroke-width="1" />
<line x1="275.15" y1="780.25" x2="655.45" y2="778.59" stroke="#eeeeee" stroke-width="0.9" />
<line x1="275.16" y1="781.25" x2="655.46" y2="779.59" stroke="#111" stroke-width="1" />
<line x1="275.11" y1="770.66" x2="655.41" y2="769.00" stroke="#eeeeee" stroke-width="0.9" />
<line x1="275.12" y1="771.66" x2="655.41" y2="770.00" stroke="#111" stroke-width="1" />
<line x1="275.07" y1="761.07" x2="655.37" y2="759.41" stroke="#eeeeee" stroke-width="0.9" />
<line x1="275.08" y1="762.07" x2="655.37" y2="760.41" stroke="#111" stroke-width="1" />
<line x1="275.03" y1="751.48" x2="655.33" y2="749.82" stroke="#eeeeee" stroke-width="0.9" />
<line x1="275.03" y1="752.48" x2="655.33" y2="750.82" stroke="#111" stroke-width="1" />
<line x1="274.99" y1="741.89" x2="655.28" y2="740.23" stroke="#eeeeee" stroke-width="0.9" />
<line x1="274.99" y1="742.89" x2="655.29" y2="741.23" stroke="#111" stroke-width="1" />
<rect x="274.95" y="733.30" width="380.30" height="95.90" fill="none" stroke="#000" stroke-width="1.3" />
<line x1="272.07" y1="829.21" x2="275.37" y2="829.20" stroke="#000" stroke-width="1" />
<text x="267.08" y="832.13" font-family='"Liberation Sans", sans-serif' font-size="10.8" font-weight="normal" text-anchor="end" fill="#000" stroke="#000" stroke-width="0.3">0</text>
<line x1="272.03" y1="819.62" x2="275.33" y2="819.61" stroke="#000" stroke-width="1" />
<text x="267.04" y="822.54" font-family='"Liberation Sans", sans-serif' font-size="10.8" font-weight="normal" text-anchor="end" fill="#000" stroke="#000" stroke-width="0.3">200</text>
<line x1="271.98" y1="810.03" x2="275.28" y2="810.02" stroke="#000" stroke-width="1" />
<text x="267.00" y="812.95" font-family='"Liberation Sans", sans-serif' font-size="10.8" font-weight="normal" text-anchor="end" fill="#000" stroke="#000" stroke-width="0.3">400</text>
<line x1="271.94" y1="800.44" x2="275.24" y2="800.43" stroke="#000" stroke-width="1" />
<text x="266.96" y="803.36" font-family='"Liberation Sans", sans-serif' font-size="10.8" font-weight="normal" text-anchor="end" fill="#000" stroke="#000" stroke-width="0.3">600</text>
<line x1="271.90" y1="790.85" x2="275.20" y2="790.84" stroke="#000" stroke-width="1" />
<text x="266.91" y="793.78" font-family='"Liberation Sans", sans-serif' font-size="10.8" font-weight="normal" text-anchor="end" fill="#000" stroke="#000" stroke-width="0.3">800</text>
<line x1="271.86" y1="781.26" x2="275.16" y2="781.25" stroke="#000" stroke-width="1" />
<text x="266.87" y="784.19" font-family='"Liberation Sans", sans-serif' font-size="10.8" font-weight="normal" text-anchor="end" fill="#000" stroke="#000" stroke-width="0.3">1000</text>
<line x1="271.82" y1="771.67" x2="275.12" y2="771.66" stroke="#000" stroke-width="1" />
<text x="266.83" y="774.60" font-family='"Liberation Sans", sans-serif' font-size="10.8" font-weight="normal" text-anchor="end" fill="#000" stroke="#000" stroke-width="0.3">1200</text>
<line x1="271.78" y1="762.08" x2="275.08" y2="762.07" stroke="#000" stroke-width="1" />
<text x="266.79" y="765.01" font-family='"Liberation Sans", sans-serif' font-size="10.8" font-weight="normal" text-anchor="end" fill="#000" stroke="#000" stroke-width="0.3">1400</text>
<line x1="271.73" y1="752.49" x2="275.03" y2="752.48" stroke="#000" stroke-width="1" />
<text x="266.75" y="755.42" font-family='"Liberation Sans", sans-serif' font-size="10.8" font-weight="normal" text-anchor="end" fill="#000" stroke="#000" stroke-width="0.3">1600</text>
<line x1="271.69" y1="742.90" x2="274.99" y2="742.89" stroke="#000" stroke-width="1" />
<text x="266.70" y="745.83" font-family='"Liberation Sans", sans-serif' font-size="10.8" font-weight="normal" text-anchor="end" fill="#000" stroke="#000" stroke-width="0.3">1800</text>
<line x1="271.65" y1="733.31" x2="274.95" y2="733.30" stroke="#000" stroke-width="1" />
<text x="266.66" y="736.24" font-family='"Liberation Sans", sans-serif' font-size="10.8" font-weight="normal" text-anchor="end" fill="#000" stroke="#000" stroke-width="0.3">2000</text>
<rect x="280.99" y="742.86" width="8.70" height="86.31" fill="url(#dith3)" stroke="#000" stroke-width="1" />
<rect x="302.22" y="766.27" width="8.70" height="62.81" fill="url(#dith3)" stroke="#000" stroke-width="1" />
<rect x="323.39" y="775.04" width="8.70" height="53.94" fill="url(#dith3)" stroke="#000" stroke-width="1" />
<rect x="344.56" y="784.78" width="8.70" height="44.11" fill="url(#dith3)" stroke="#000" stroke-width="1" />
<rect x="365.76" y="800.75" width="8.70" height="28.05" fill="url(#dith3)" stroke="#000" stroke-width="1" />
<rect x="386.89" y="802.34" width="8.70" height="26.37" fill="url(#dith3)" stroke="#000" stroke-width="1" />
<rect x="408.02" y="802.49" width="8.70" height="26.13" fill="url(#dith3)" stroke="#000" stroke-width="1" />
<rect x="429.15" y="802.39" width="8.70" height="26.13" fill="url(#dith3)" stroke="#000" stroke-width="1" />
<rect x="450.28" y="803.26" width="8.70" height="25.17" fill="url(#dith3)" stroke="#000" stroke-width="1" />
<rect x="471.43" y="808.20" width="8.70" height="20.14" fill="url(#dith3)" stroke="#000" stroke-width="1" />
<rect x="492.57" y="812.19" width="8.70" height="16.06" fill="url(#dith3)" stroke="#000" stroke-width="1" />
<rect x="513.71" y="813.05" width="8.70" height="15.10" fill="url(#dith3)" stroke="#000" stroke-width="1" />
<rect x="534.84" y="814.40" width="8.70" height="13.67" fill="url(#dith3)" stroke="#000" stroke-width="1" />
<rect x="555.97" y="815.51" width="8.70" height="12.47" fill="url(#dith3)" stroke="#000" stroke-width="1" />
<rect x="577.11" y="818.53" width="8.70" height="9.35" fill="url(#dith3)" stroke="#000" stroke-width="1" />
<rect x="598.24" y="818.44" width="8.70" height="9.35" fill="url(#dith3)" stroke="#000" stroke-width="1" />
<rect x="619.39" y="822.42" width="8.70" height="5.27" fill="url(#dith3)" stroke="#000" stroke-width="1" />
<rect x="640.52" y="824.25" width="8.70" height="3.36" fill="url(#dith3)" stroke="#000" stroke-width="1" />
<line x1="275.37" y1="829.20" x2="275.38" y2="832.20" stroke="#000" stroke-width="1" />
<line x1="296.50" y1="829.11" x2="296.51" y2="832.11" stroke="#000" stroke-width="1" />
<line x1="317.62" y1="829.01" x2="317.64" y2="832.01" stroke="#000" stroke-width="1" />
<line x1="338.75" y1="828.92" x2="338.76" y2="831.92" stroke="#000" stroke-width="1" />
<line x1="359.88" y1="828.83" x2="359.89" y2="831.83" stroke="#000" stroke-width="1" />
<line x1="381.01" y1="828.74" x2="381.02" y2="831.74" stroke="#000" stroke-width="1" />
<line x1="402.13" y1="828.65" x2="402.15" y2="831.65" stroke="#000" stroke-width="1" />
<line x1="423.26" y1="828.55" x2="423.27" y2="831.55" stroke="#000" stroke-width="1" />
<line x1="444.39" y1="828.46" x2="444.40" y2="831.46" stroke="#000" stroke-width="1" />
<line x1="465.52" y1="828.37" x2="465.53" y2="831.37" stroke="#000" stroke-width="1" />
<line x1="486.64" y1="828.28" x2="486.66" y2="831.28" stroke="#000" stroke-width="1" />
<line x1="507.77" y1="828.18" x2="507.79" y2="831.18" stroke="#000" stroke-width="1" />
<line x1="528.90" y1="828.09" x2="528.91" y2="831.09" stroke="#000" stroke-width="1" />
<line x1="550.03" y1="828.00" x2="550.04" y2="831.00" stroke="#000" stroke-width="1" />
<line x1="571.15" y1="827.91" x2="571.17" y2="830.91" stroke="#000" stroke-width="1" />
<line x1="592.28" y1="827.82" x2="592.30" y2="830.82" stroke="#000" stroke-width="1" />
<line x1="613.41" y1="827.72" x2="613.42" y2="830.72" stroke="#000" stroke-width="1" />
<line x1="634.54" y1="827.63" x2="634.55" y2="830.63" stroke="#000" stroke-width="1" />
<line x1="655.66" y1="827.54" x2="655.68" y2="830.54" stroke="#000" stroke-width="1" />
<text x="0" y="0" transform="translate(283.50,844.16) rotate(-45)" font-family='"Liberation Sans", sans-serif' font-size="11.35" text-anchor="end" stroke="#000" stroke-width="0.2">Husholdningsprodukter</text>
<text x="0" y="0" transform="translate(304.63,844.07) rotate(-45)" font-family='"Liberation Sans", sans-serif' font-size="11.35" text-anchor="end" stroke="#000" stroke-width="0.2">Planter</text>
<text x="0" y="0" transform="translate(325.75,843.98) rotate(-45)" font-family='"Liberation Sans", sans-serif' font-size="11.35" text-anchor="end" stroke="#000" stroke-width="0.2">Svage analgetika</text>
<text x="0" y="0" transform="translate(346.88,843.89) rotate(-45)" font-family='"Liberation Sans", sans-serif' font-size="11.35" text-anchor="end" stroke="#000" stroke-width="0.2">Øvrige kemikalier</text>
<text x="0" y="0" transform="translate(368.01,843.79) rotate(-45)" font-family='"Liberation Sans", sans-serif' font-size="11.35" text-anchor="end" stroke="#000" stroke-width="0.2">Antidepressiva</text>
<text x="0" y="0" transform="translate(389.14,843.70) rotate(-45)" font-family='"Liberation Sans", sans-serif' font-size="11.35" text-anchor="end" stroke="#000" stroke-width="0.2">Antipsychotica</text>
<text x="0" y="0" transform="translate(410.26,843.61) rotate(-45)" font-family='"Liberation Sans", sans-serif' font-size="11.35" text-anchor="end" stroke="#000" stroke-width="0.2">Øvrige farmaka</text>
<text x="0" y="0" transform="translate(431.39,843.52) rotate(-45)" font-family='"Liberation Sans", sans-serif' font-size="11.35" text-anchor="end" stroke="#000" stroke-width="0.2">Anxiolytika</text>
<text x="0" y="0" transform="translate(452.52,843.43) rotate(-45)" font-family='"Liberation Sans", sans-serif' font-size="11.35" text-anchor="end" stroke="#000" stroke-width="0.2">Vitaminer</text>
<text x="0" y="0" transform="translate(473.65,843.33) rotate(-45)" font-family='"Liberation Sans", sans-serif' font-size="11.35" text-anchor="end" stroke="#000" stroke-width="0.2">Rusmidler</text>
<text x="0" y="0" transform="translate(494.77,843.24) rotate(-45)" font-family='"Liberation Sans", sans-serif' font-size="11.35" text-anchor="end" stroke="#000" stroke-width="0.2">Brændstof/opløsningsmi...</text>
<text x="0" y="0" transform="translate(515.90,843.15) rotate(-45)" font-family='"Liberation Sans", sans-serif' font-size="11.35" text-anchor="end" stroke="#000" stroke-width="0.2">Luftvejsirritanter</text>
<text x="0" y="0" transform="translate(537.03,843.06) rotate(-45)" font-family='"Liberation Sans", sans-serif' font-size="11.35" text-anchor="end" stroke="#000" stroke-width="0.2">Alkoholer</text>
<text x="0" y="0" transform="translate(558.16,842.96) rotate(-45)" font-family='"Liberation Sans", sans-serif' font-size="11.35" text-anchor="end" stroke="#000" stroke-width="0.2">Nikotinprodukter</text>
<text x="0" y="0" transform="translate(579.28,842.87) rotate(-45)" font-family='"Liberation Sans", sans-serif' font-size="11.35" text-anchor="end" stroke="#000" stroke-width="0.2">Svampe</text>
<text x="0" y="0" transform="translate(600.41,842.78) rotate(-45)" font-family='"Liberation Sans", sans-serif' font-size="11.35" text-anchor="end" stroke="#000" stroke-width="0.2">Stærke analgetika</text>
<text x="0" y="0" transform="translate(621.54,842.69) rotate(-45)" font-family='"Liberation Sans", sans-serif' font-size="11.35" text-anchor="end" stroke="#000" stroke-width="0.2">Dyr</text>
<text x="0" y="0" transform="translate(642.67,842.60) rotate(-45)" font-family='"Liberation Sans", sans-serif' font-size="11.35" text-anchor="end" stroke="#000" stroke-width="0.2">Naturlægem./kosttilskud...</text>
</g>
<line x1="7.6" y1="3" x2="0.5" y2="977" stroke="#555" stroke-width="1.0"/>
<line x1="676" y1="3.3" x2="800" y2="3.3" stroke="#666" stroke-width="0.9"/>
<line x1="800" y1="4.2" x2="825" y2="4.2" stroke="#777" stroke-width="0.9"/>
<rect x="22" y="24" width="2" height="2.5" fill="#222"/>
<rect x="71.5" y="23" width="2" height="2.5" fill="#222"/>
</svg>
</body></html>
